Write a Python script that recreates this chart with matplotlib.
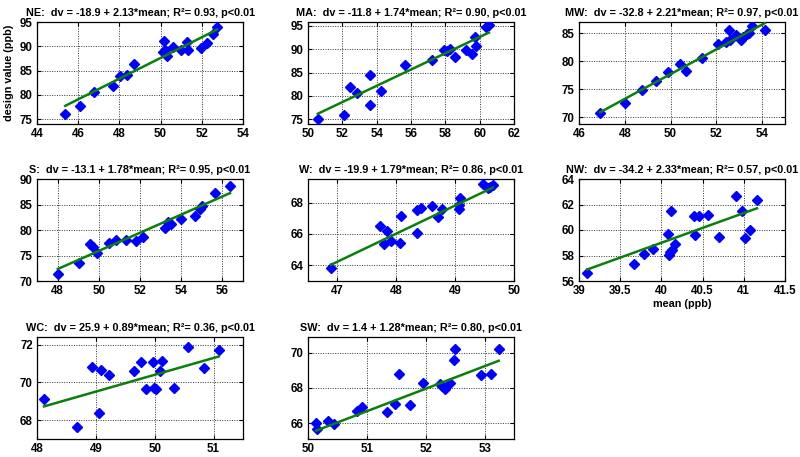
import numpy as np
import matplotlib
matplotlib.use("Agg")
import matplotlib.pyplot as plt

plt.rcParams['font.family'] = ['Liberation Sans', 'DejaVu Sans']
plt.rcParams['font.weight'] = 'bold'

regions = ["NE", "MA", "MW", "S", "W", "NW", "WC", "SW"]
intercepts = [-18.9, -11.8, -32.8, -13.1, -19.9, -34.2, 25.9, 1.4]
slopes = [2.13, 1.74, 2.21, 1.78, 1.79, 2.33, 0.89, 1.28]
r2_values = ["0.93", "0.90", "0.97", "0.95", "0.86", "0.57", "0.36", "0.80"]

ne_mean = [45.37, 46.10, 46.79, 47.68, 48.03, 48.35, 48.71, 50.10, 50.19, 50.29, 50.18,
           50.61, 50.98, 51.26, 51.35, 51.98, 52.26, 52.55, 52.74]
ne_dv = [76.0, 77.7, 80.5, 81.9, 83.8, 84.1, 86.4, 88.9, 89.3, 88.1, 91.1,
         89.8, 89.2, 90.8, 89.2, 89.7, 90.6, 92.6, 93.9]

ma_mean = [50.57, 52.09, 52.43, 52.84, 53.62, 53.62, 54.27, 55.65, 57.20, 57.92,
           58.11, 58.27, 58.59, 59.21, 59.54, 59.73, 59.78, 60.39, 60.54]
ma_dv = [75.0, 75.9, 81.9, 80.6, 84.4, 78.1, 81.1, 86.7, 87.6, 89.9,
         89.5, 90.0, 88.4, 89.9, 88.9, 92.7, 90.6, 94.7, 95.2]

mw_mean = [46.93, 48.03, 48.77, 49.35, 49.89, 50.40, 50.66, 51.38, 52.08, 52.41,
           52.56, 52.59, 52.84, 53.06, 53.17, 53.32, 53.43, 53.54, 54.12]
mw_dv = [70.8, 72.6, 74.8, 76.4, 78.0, 79.5, 78.3, 80.5, 83.0, 83.4,
         85.5, 83.7, 84.6, 83.7, 84.3, 84.9, 85.1, 86.2, 85.5]

s_mean = [48.01, 49.02, 49.59, 49.72, 49.91, 50.48, 50.85, 51.34, 51.81, 52.15,
          53.21, 53.37, 53.49, 53.98, 54.67, 54.92, 55.00, 55.65, 56.37]
s_dv = [71.4, 73.6, 77.2, 76.6, 75.5, 77.4, 78.0, 78.1, 77.9, 78.7,
        80.4, 81.6, 81.2, 82.2, 82.8, 84.2, 84.7, 87.3, 88.6]

w_mean = [46.89, 47.73, 47.79, 47.84, 47.91, 48.07, 48.08, 48.35, 48.36, 48.42,
          48.60, 48.71, 48.78, 49.06, 49.07, 49.09, 49.48, 49.56, 49.60, 49.64]
w_dv = [63.83, 66.5, 65.35, 66.19, 65.58, 65.45, 67.16, 66.04, 67.52, 67.68,
        67.77, 67.09, 67.56, 67.87, 67.62, 68.29, 69.16, 68.93, 68.99, 69.09]

nw_mean = [39.10, 39.67, 39.79, 39.90, 40.08, 40.09, 40.10, 40.12, 40.13, 40.17,
           40.39, 40.41, 40.46, 40.56, 40.70, 40.90, 40.98, 41.02, 41.08, 41.16]
nw_dv = [56.6, 57.34, 58.1, 58.49, 59.67, 58.05, 58.26, 61.51, 58.44, 58.9,
         61.07, 59.62, 61.12, 61.2, 59.49, 62.64, 61.46, 59.41, 60.02, 62.38]

wc_mean = [48.12, 48.68, 48.93, 49.05, 49.08, 49.22, 49.64, 49.76, 49.86, 49.97,
           49.98, 50.02, 50.09, 50.13, 50.32, 50.56, 50.83, 51.09]
wc_dv = [69.14, 67.64, 70.81, 68.36, 70.65, 70.40, 70.61, 71.06, 69.64, 71.06,
         69.69, 69.64, 70.58, 71.15, 69.69, 71.88, 70.76, 71.73]

sw_mean = [50.14, 50.15, 50.34, 50.45, 50.83, 50.92, 51.34, 51.48, 51.55, 51.74,
           51.95, 52.25, 52.28, 52.32, 52.42, 52.48, 52.49, 52.94, 53.11, 53.24]
sw_dv = [66.0, 65.68, 66.15, 65.96, 66.72, 66.91, 66.63, 67.07, 68.78, 67.01,
         68.29, 68.25, 68.1, 67.96, 68.3, 69.62, 70.19, 68.72, 68.78, 70.21]

means = [ne_mean, ma_mean, mw_mean, s_mean, w_mean, nw_mean, wc_mean, sw_mean]
dvs = [ne_dv, ma_dv, mw_dv, s_dv, w_dv, nw_dv, wc_dv, sw_dv]

xlims = [(44, 54), (50, 62), (46, 55), (47, 57), (46.5, 50), (39, 41.5), (48, 51.5), (50, 53.5)]
ylims = [(74, 95), (74, 95.8), (68.8, 87), (70, 90), (63, 69.5), (56, 64), (67, 72.4), (65.1, 70.9)]
xticks = [np.arange(44, 55, 2), np.arange(50, 63, 2), np.arange(46, 55, 2), np.arange(48, 57, 2),
          [47, 48, 49, 50], [39, 39.5, 40, 40.5, 41, 41.5], [48, 49, 50, 51], [50, 51, 52, 53]]
yticks = [np.arange(75, 96, 5), np.arange(75, 96, 5), np.arange(70, 86, 5), np.arange(70, 91, 5),
          [64, 66, 68], [56, 58, 60, 62, 64], [68, 70, 72], [66, 68, 70]]

W, H = 800, 457
fig = plt.figure(figsize=(W / 100, H / 100), dpi=100)
col_left = [37, 308, 579]
row_top = [22, 179, 337]
ax_w, ax_h = 206, 102

for i, reg in enumerate(regions):
    r, c = divmod(i, 3)
    l = col_left[c]
    t = row_top[r]
    ax = fig.add_axes([l / W, 1 - (t + ax_h) / H, ax_w / W, ax_h / H])
    x = np.array(means[i])
    y = np.array(dvs[i])
    ax.plot(x, y, linestyle='none', marker='D', markersize=5, color='#0000ff',
            markeredgecolor='#0000ff', zorder=3)
    xl = np.array([x.min(), x.max()])
    ax.plot(xl, intercepts[i] + slopes[i] * xl, color='#0a800a', linewidth=1.8, zorder=4)
    ax.set_xlim(*xlims[i])
    ax.set_ylim(*ylims[i])
    ax.set_xticks(xticks[i])
    ax.set_xticklabels([f"{v:g}" for v in xticks[i]])
    ax.set_yticks(yticks[i])
    ax.set_yticklabels([f"{v:g}" for v in yticks[i]])
    ax.grid(True, linestyle=(0, (1, 1.5)), color='#333333', linewidth=0.7)
    ax.set_axisbelow(True)
    ax.tick_params(direction='in', length=3, width=0.8, labelsize=8.3, pad=3,
                   top=True, right=True)
    for lab in ax.get_xticklabels() + ax.get_yticklabels():
        lab.set_fontweight('bold')
    for sp in ax.spines.values():
        sp.set_linewidth(0.9)
        sp.set_color('black')
    ttl = (f"{reg}:  dv = {intercepts[i]:.1f} + {slopes[i]:.2f}*mean; "
           f"R\u00b2= {r2_values[i]}, p<0.01")
    ax.set_title(ttl, fontsize=7.8, fontweight='bold', pad=4)
    if i == 0:
        ax.set_ylabel("design value (ppb)", fontsize=7.8, fontweight='bold', labelpad=4)
    if i == 5:
        ax.set_xlabel("mean (ppb)", fontsize=7.8, fontweight='bold', labelpad=1)

fig.savefig("out.png", dpi=100)
